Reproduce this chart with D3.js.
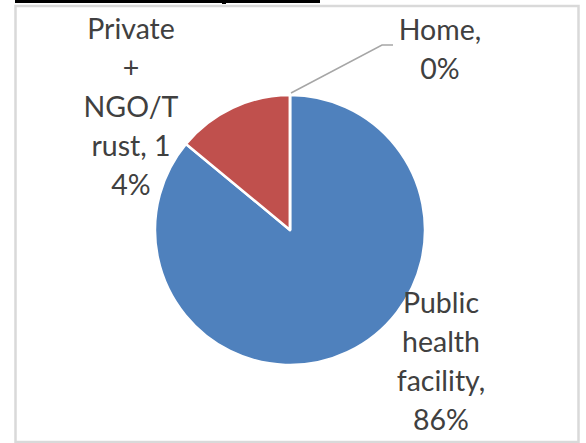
<!DOCTYPE html>
<html><head><meta charset="utf-8">
<script src="https://cdn.jsdelivr.net/npm/d3@7"></script>
<style>body{margin:0;background:#fff}svg{display:block}</style>
</head><body>
<script>
const categories = ["Public health facility", "Private + NGO/Trust", "Home"];
const values = [86, 14, 0];
const colors = ["#4f81bd", "#c0504d", "#9bbb59"];
const labelLines = [
  ["Public", "health", "facility,", "86%"],
  ["Private", "+", "NGO/T", "rust, 1", "4%"],
  ["Home,", "0%"]
];

const W = 586, H = 443;
const svg = d3.select("body").append("svg").attr("width", W).attr("height", H);

// header remnant bar
svg.append("rect").attr("x", 15).attr("y", 0).attr("width", 305).attr("height", 3).attr("fill", "#000");
svg.append("rect").attr("x", 222).attr("y", 0).attr("width", 4).attr("height", 4).attr("fill", "#000");
// chart border
svg.append("rect").attr("x", 15.5).attr("y", 6).attr("width", 563).attr("height", 436)
  .attr("fill", "#fff").attr("stroke", "#d9d9d9").attr("stroke-width", 2.5);

const cx = 290, cy = 230, r = 135;
const pie = d3.pie().sort(null).value(d => d)(values);
const arc = d3.arc().innerRadius(0).outerRadius(r);
const g = svg.append("g").attr("transform", `translate(${cx},${cy})`);
g.selectAll("path").data(pie).join("path")
  .attr("d", arc).attr("fill", (d, i) => colors[i])
  .attr("stroke", "#fff").attr("stroke-width", 2.5).attr("stroke-linejoin", "round");

// leader line for Home
const homeAngle = pie[2].startAngle;
const p0 = [Math.sin(homeAngle) * r + cx, -Math.cos(homeAngle) * r + cy - 2];
svg.append("polyline")
  .attr("points", `${p0[0]+1},${p0[1]} 382,45 393,45`)
  .attr("fill", "none").attr("stroke", "#a6a6a6").attr("stroke-width", 1.5);

const labelPos = [[441, 313], [131, 39], [440, 40]];
const lh = 39;
labelLines.forEach((lines, i) => {
  const t = svg.append("text").attr("x", labelPos[i][0]).attr("y", labelPos[i][1])
    .attr("text-anchor", "middle").attr("fill", "#404040")
    .attr("font-family", "Lato, 'Open Sans', sans-serif").attr("font-size", 28.5);
  lines.forEach((l, j) => t.append("tspan").attr("x", labelPos[i][0]).attr("y", labelPos[i][1] + j * lh).text(l));
});
</script>
</body></html>
